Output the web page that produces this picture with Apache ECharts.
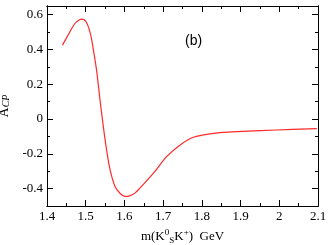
<!DOCTYPE html>
<html>
<head>
<meta charset="utf-8">
<script src="https://cdn.jsdelivr.net/npm/echarts@6/dist/echarts.min.js"></script>
<style>html,body{margin:0;padding:0;background:#fff}#c{width:329px;height:245px}</style>
</head>
<body>
<div id="c"></div>
<script>
// Data
const massValues = [1.440, 1.454, 1.4715, 1.482, 1.491, 1.500, 1.507, 1.514, 1.520, 1.528, 1.537, 1.5455, 1.554, 1.563, 1.5757, 1.589, 1.6015, 1.615, 1.627, 1.640, 1.675, 1.709, 1.744, 1.778, 1.8125, 1.847, 1.907, 1.993, 2.097];
const acpValues  = [0.425, 0.481, 0.548, 0.568, 0.574, 0.562, 0.530, 0.472, 0.395, 0.281, 0.109, -0.044, -0.178, -0.292, -0.388, -0.428, -0.445, -0.440, -0.426, -0.397, -0.311, -0.216, -0.149, -0.105, -0.088, -0.078, -0.071, -0.063, -0.055];
const xMajorTicks = [1.4, 1.5, 1.6, 1.7, 1.8, 1.9, 2.0, 2.1];
const xMinorTicks = [1.45, 1.55, 1.65, 1.75, 1.85, 1.95, 2.05];
const yMajorTicks = [-0.4, -0.2, 0, 0.2, 0.4, 0.6];
const yMinorTicks = [-0.5, -0.3, -0.1, 0.1, 0.3, 0.5];
const xMin = 1.4, xMax = 2.1, yMin = -0.5, yMax = 0.65;
const panelLabel = '(b)';

const chart = echarts.init(document.getElementById('c'), null, {renderer: 'canvas'});
const serif = 'Liberation Serif';
const lineCol = '#000';

function xAx(pos, ticks, len, showLabel, showName) {
  const a = {
    type: 'value', position: pos, min: xMin, max: xMax,
    axisLine: {show: true, onZero: false, lineStyle: {color: lineCol, width: 1}},
    axisTick: {show: true, inside: true, length: len, customValues: ticks, lineStyle: {color: lineCol, width: 1}},
    axisLabel: showLabel ? {show: true, customValues: xMajorTicks, fontFamily: serif, fontSize: 13, color: '#000', margin: 4,
      formatter: v => (Math.abs(v - 2) < 1e-9 ? '2' : v.toFixed(1))} : {show: false},
    splitLine: {show: false}
  };
  if (showName) {
    a.name = '{n|m(K}{sup|0}{sub|S}{n|K}{sup|+}{n|)  GeV}';
    a.nameLocation = 'middle';
    a.nameGap = 21;
    a.nameTextStyle = {
      rich: {
        n: {fontFamily: serif, fontSize: 13, color: '#000'},
        sup: {fontFamily: serif, fontSize: 9, color: '#000', verticalAlign: 'top', padding: [0, 0, 8, 0]},
        sub: {fontFamily: serif, fontSize: 9, color: '#000', verticalAlign: 'bottom', padding: [6, 0, 0, 0]}
      }
    };
  }
  return a;
}
function yAx(pos, ticks, len, showLabel, showName) {
  const a = {
    type: 'value', position: pos, min: yMin, max: yMax,
    axisLine: {show: true, onZero: false, lineStyle: {color: lineCol, width: 1}},
    axisTick: {show: true, inside: true, length: len, customValues: ticks, lineStyle: {color: lineCol, width: 1}},
    axisLabel: showLabel ? {show: true, customValues: yMajorTicks, fontFamily: serif, fontSize: 13, color: '#000', margin: 4,
      formatter: v => (Math.abs(v) < 1e-9 ? '0' : v.toFixed(1))} : {show: false},
    splitLine: {show: false}
  };
  if (showName) {
    a.name = '{n|A}{s|CP}';
    a.nameLocation = 'middle';
    a.nameGap = 32;
    a.nameRotate = 90;
    a.nameTextStyle = {
      rich: {
        n: {fontFamily: serif, fontSize: 14, color: '#000'},
        s: {fontFamily: serif, fontStyle: 'italic', fontSize: 10, color: '#000', verticalAlign: 'bottom', padding: [5, 0, 0, 0]}
      }
    };
  }
  return a;
}

chart.setOption({
  animation: false,
  backgroundColor: '#fff',
  grid: {left: 47, right: 11, top: 6, bottom: 39, containLabel: false, outerBoundsMode: 'none'},
  xAxis: [
    xAx('bottom', xMajorTicks, 6, true, true),
    xAx('bottom', xMinorTicks, 3, false, false),
    xAx('top', xMajorTicks, 6, false, false),
    xAx('top', xMinorTicks, 3, false, false)
  ],
  yAxis: [
    yAx('left', yMajorTicks, 6, true, true),
    yAx('left', yMinorTicks, 3, false, false),
    yAx('right', yMajorTicks, 6, false, false),
    yAx('right', yMinorTicks, 3, false, false)
  ],
  graphic: [{
    type: 'text', left: 185, top: 34,
    style: {text: panelLabel, font: '14px "Liberation Sans"', fill: '#000'}
  }],
  series: [{
    type: 'line', xAxisIndex: 0, yAxisIndex: 0,
    data: massValues.map((m, i) => [m, acpValues[i]]),
    smooth: 0.35, showSymbol: false,
    lineStyle: {color: '#ff2a2a', width: 1.2}
  }]
});
</script>
</body>
</html>
